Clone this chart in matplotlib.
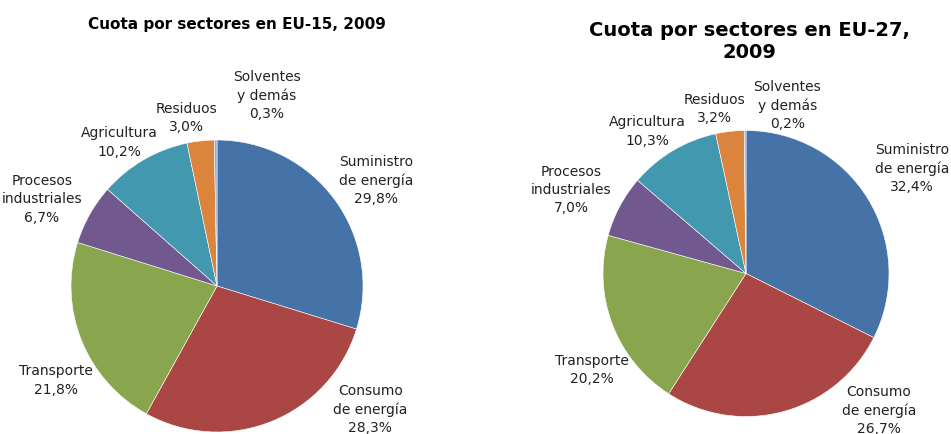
import matplotlib.pyplot as plt

sectors = ["Suministro\nde energía", "Consumo\nde energía", "Transporte",
           "Procesos\nindustriales", "Agricultura", "Residuos", "Solventes\ny demás"]
eu15 = [29.8, 28.3, 21.8, 6.7, 10.2, 3.0, 0.3]
eu27 = [32.4, 26.7, 20.2, 7.0, 10.3, 3.2, 0.2]
colors = ["#4572A7", "#AA4643", "#89A54E", "#71588F", "#4198AF", "#DB843D", "#93A9CF"]

# label positions in units of pie radius (layout only)
pos15 = [(1.09, 0.73), (1.05, -0.84), (-1.10, -0.64), (-1.20, 0.60),
         (-0.67, 0.99), (-0.21, 1.16), (0.34, 1.31)]
pos27 = [(1.16, 0.74), (0.93, -0.95), (-1.08, -0.67), (-1.22, 0.59),
         (-0.69, 1.00), (-0.22, 1.16), (0.29, 1.18)]

W, H = 951, 435
fig = plt.figure(figsize=(W / 100, H / 100), dpi=100)


def fmt(v):
    return f"{v:.1f}".replace(".", ",") + "%"


def draw(cx, cy, r, values, pos):
    ax = fig.add_axes([(cx - r) / W, (H - cy - r) / H, 2 * r / W, 2 * r / H])
    ax.pie(values, colors=colors, startangle=90, counterclock=False, radius=1,
           wedgeprops=dict(edgecolor="white", linewidth=0.4))
    ax.set_xlim(-1, 1)
    ax.set_ylim(-1, 1)
    ax.set_aspect("equal")
    ax.axis("off")
    for name, v, (x, y) in zip(sectors, values, pos):
        ax.text(x, y, name + "\n" + fmt(v), ha="center", va="center",
                fontsize=10, color="#222222", linespacing=1.38, clip_on=False)


draw(217, 287, 146, eu15, pos15)
draw(746, 274.5, 143, eu27, pos27)

fig.text(237 / W, 1 - 24 / H, "Cuota por sectores en EU-15, 2009",
         ha="center", va="center", fontsize=11, fontweight="bold")
fig.text(749 / W, 1 - 41 / H, "Cuota por sectores en EU-27,\n2009",
         ha="center", va="center", fontsize=14, fontweight="bold", linespacing=1.2)

fig.savefig("out.png", dpi=100, facecolor="white")
